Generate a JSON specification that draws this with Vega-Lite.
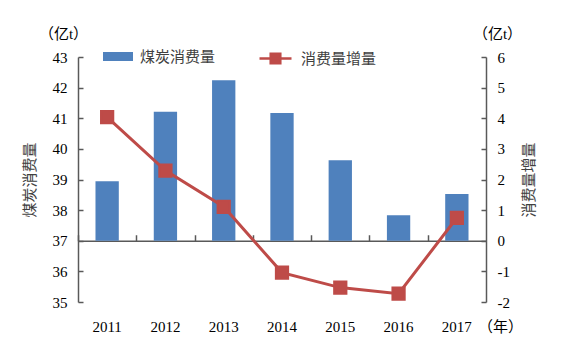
{
  "$schema": "https://vega.github.io/schema/vega-lite/v6.json",
  "width": 408,
  "height": 245,
  "autosize": "none",
  "padding": {"left": 78, "top": 57, "right": 75, "bottom": 49},
  "background": "white",
  "config": {
    "view": {"stroke": null},
    "font": "Liberation Serif, Noto Sans CJK SC",
    "axis": {
      "labelFont": "Liberation Serif, Noto Sans CJK SC",
      "labelFontSize": 15,
      "labelColor": "#000000",
      "titleFont": "Liberation Serif, Noto Sans CJK SC",
      "titleFontSize": 15,
      "titleFontWeight": "normal",
      "titleColor": "#404040",
      "domainColor": "#595959",
      "tickColor": "#595959",
      "domainWidth": 1.5,
      "tickWidth": 1.5,
      "grid": false
    },
    "legend": {
      "labelFont": "Liberation Serif, Noto Sans CJK SC",
      "labelFontSize": 15,
      "labelColor": "#404040",
      "padding": 0
    }
  },
  "data": {
    "values": [
      {"year": "2011", "consumption": 38.94, "increase": 4.04},
      {"year": "2012", "consumption": 41.21, "increase": 2.29},
      {"year": "2013", "consumption": 42.24, "increase": 1.11},
      {"year": "2014", "consumption": 41.17, "increase": -1.04},
      {"year": "2015", "consumption": 39.63, "increase": -1.53},
      {"year": "2016", "consumption": 37.83, "increase": -1.73},
      {"year": "2017", "consumption": 38.53, "increase": 0.75}
    ]
  },
  "layer": [
    {
      "mark": {"type": "bar"},
      "encoding": {
        "x": {
          "field": "year", "type": "ordinal",
          "scale": {"paddingInner": 0.6, "paddingOuter": 0.3},
          "axis": {
            "orient": "bottom", "domain": false, "ticks": false, "labelAngle": 0,
            "labelPadding": 17, "title": "（年）", "titleX": 422, "titleY": 24,
            "titleAlign": "center", "titleBaseline": "middle", "titleColor": "#000000"
          }
        },
        "y": {
          "field": "consumption", "type": "quantitative",
          "scale": {"domain": [35, 43], "zero": false, "nice": false},
          "axis": {
            "orient": "left", "values": [35, 36, 37, 38, 39, 40, 41, 42, 43],
            "tickSize": -5, "labelPadding": 16,
            "title": "煤炭消费量", "titleAngle": 270, "titleX": -49, "titleY": 122.5,
            "titleAlign": "center", "titleBaseline": "middle"
          }
        },
        "y2": {"datum": 37},
        "color": {
          "datum": "煤炭消费量",
          "scale": {"range": ["#4F81BD"]},
          "legend": {
            "orient": "none", "legendX": 25, "legendY": -15.5, "title": null,
            "symbolType": "M-1,-0.3H1V0.3H-1Z", "symbolSize": 900,
            "symbolStrokeWidth": 0, "labelOffset": 7
          }
        }
      }
    },
    {
      "mark": {
        "type": "line", "color": "#BE4B48", "strokeWidth": 3,
        "point": {"shape": "square", "size": 150, "filled": true, "color": "#BE4B48"}
      },
      "encoding": {
        "x": {
          "field": "year", "type": "ordinal",
          "axis": {
            "orient": "top", "offset": -183.75, "labels": false, "title": null,
            "bandPosition": 0, "tickOffset": -17.5, "tickSize": 6, "domain": true
          }
        },
        "y": {
          "field": "increase", "type": "quantitative",
          "scale": {"domain": [-2, 6], "zero": false, "nice": false},
          "axis": {
            "orient": "right", "values": [-2, -1, 0, 1, 2, 3, 4, 5, 6],
            "labelExpr": "datum.value < 0 ? '-' + abs(datum.value) : '' + datum.value",
            "tickSize": -5, "labelPadding": 16,
            "title": "消费量增量", "titleAngle": 270, "titleX": 42, "titleY": 122.5,
            "titleAlign": "center", "titleBaseline": "middle"
          }
        },
        "stroke": {
          "datum": "消费量增量",
          "scale": {"range": ["#BE4B48"]},
          "legend": {
            "orient": "none", "legendX": 180, "legendY": -16, "title": null,
            "symbolType": "M-1,0H1M-0.3,-0.3H0.3V0.3H-0.3Z", "symbolSize": 1024,
            "labelOffset": 8,
            "encode": {
              "symbols": {
                "update": {
                  "fill": {"value": "#BE4B48"},
                  "stroke": {"value": "#BE4B48"},
                  "strokeWidth": {"value": 2.5},
                  "opacity": {"value": 1}
                }
              }
            }
          }
        }
      }
    },
    {
      "mark": {"type": "point", "opacity": 0},
      "encoding": {
        "x": {"field": "year", "type": "ordinal", "axis": null},
        "y": {
          "field": "consumption", "type": "quantitative",
          "scale": {"domain": [35, 43], "zero": false, "nice": false},
          "axis": {
            "orient": "left", "domain": false, "ticks": false, "labels": false,
            "title": "（亿t）", "titleAngle": 0, "titleX": -15, "titleY": -24,
            "titleAlign": "center", "titleBaseline": "middle", "titleColor": "#000000"
          }
        }
      }
    },
    {
      "mark": {"type": "point", "opacity": 0},
      "encoding": {
        "x": {"field": "year", "type": "ordinal", "axis": null},
        "y": {
          "field": "increase", "type": "quantitative",
          "scale": {"domain": [-2, 6], "zero": false, "nice": false},
          "axis": {
            "orient": "right", "domain": false, "ticks": false, "labels": false,
            "title": "（亿t）", "titleAngle": 0, "titleX": 11, "titleY": -24,
            "titleAlign": "center", "titleBaseline": "middle", "titleColor": "#000000"
          }
        }
      }
    }
  ],
  "resolve": {
    "scale": {"y": "independent"},
    "axis": {"x": "independent", "y": "independent"}
  }
}
